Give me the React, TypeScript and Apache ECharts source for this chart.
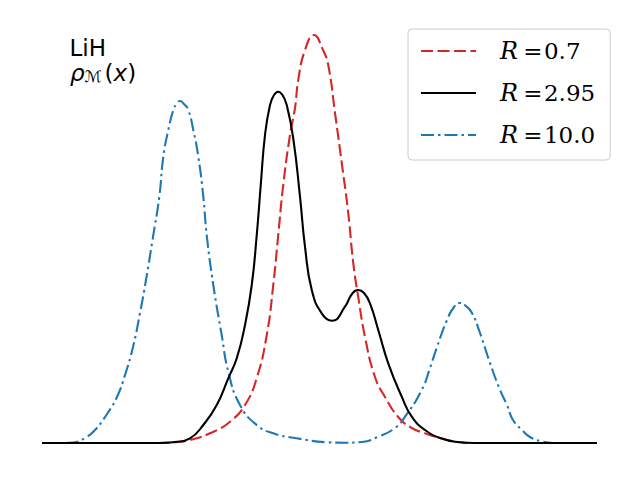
import React, { useEffect, useRef } from "react";
import * as echarts from "echarts";

// x in bohr-like units, y density
const seriesNames = ["R = 0.7", "R = 2.95", "R = 10.0"];
const legendNumbers = ["0.7", "2.95", "10.0"];

const dataR07: [number, number][] = [
  [-11.12, 0], [-6.8, 0], [-5.8, 0.0007], [-5.2, 0.003], [-4.4, 0.0097], [-3.6, 0.0213],
  [-3.0, 0.038], [-2.53, 0.065], [-2.13, 0.108], [-1.87, 0.158], [-1.67, 0.208], [-1.47, 0.258],
  [-1.2, 0.308], [-1.0, 0.335], [-0.87, 0.363], [-0.6, 0.393], [-0.24, 0.408], [0.12, 0.393],
  [0.33, 0.378], [0.6, 0.33], [0.87, 0.28], [1.13, 0.23], [1.33, 0.18], [1.53, 0.146],
  [1.8, 0.106], [2.2, 0.066], [2.6, 0.046], [3.13, 0.026], [3.67, 0.015], [4.2, 0.0097],
  [4.8, 0.005], [5.4, 0.0015], [6.2, 0], [11.08, 0],
];

const dataR295: [number, number][] = [
  [-11.12, 0], [-6.4, 0], [-5.8, 0.001], [-5.2, 0.0047], [-4.67, 0.018], [-4.13, 0.038],
  [-3.67, 0.0647], [-3.33, 0.0847], [-3.0, 0.118], [-2.73, 0.158], [-2.53, 0.208], [-2.37, 0.258],
  [-2.2, 0.308], [-2.0, 0.338], [-1.84, 0.348], [-1.67, 0.3513], [-1.5, 0.348], [-1.33, 0.338],
  [-1.07, 0.3047], [-0.8, 0.2463], [-0.6, 0.1963], [-0.33, 0.153], [0.07, 0.1297], [0.49, 0.1223],
  [1.0, 0.1363], [1.28, 0.149], [1.53, 0.153], [1.76, 0.15], [2.0, 0.1397], [2.33, 0.113],
  [2.73, 0.0797], [3.27, 0.0463], [3.67, 0.0263], [4.2, 0.013], [4.8, 0.005], [5.48, 0.001],
  [6.2, 0], [11.08, 0],
];

const dataR10: [number, number][] = [
  [-11.12, 0], [-10.4, 0], [-9.88, 0.0005], [-9.4, 0.005], [-9.0, 0.013], [-8.52, 0.029],
  [-8.12, 0.046], [-7.8, 0.068], [-7.48, 0.096], [-7.2, 0.13], [-6.96, 0.163], [-6.7, 0.203],
  [-6.428, 0.2463], [-6.268, 0.2863], [-6.068, 0.313], [-5.868, 0.333], [-5.74, 0.339], [-5.6, 0.342],
  [-5.44, 0.339], [-5.268, 0.333], [-5.068, 0.313], [-4.868, 0.2863], [-4.668, 0.2463], [-4.532, 0.208],
  [-4.268, 0.158], [-3.932, 0.108], [-3.668, 0.0713], [-3.2, 0.038], [-2.532, 0.018], [-1.868, 0.0097],
  [-0.932, 0.0047], [0.32, 0.0007], [1.0, 0.0003], [1.68, 0.001], [2.332, 0.0063], [3.0, 0.015],
  [3.4, 0.0263], [4.068, 0.053], [4.4, 0.075], [4.68, 0.096], [5.08, 0.123], [5.36, 0.136],
  [5.6, 0.14], [5.84, 0.137], [6.08, 0.13], [6.4, 0.11], [6.8, 0.08], [7.2, 0.053],
  [7.48, 0.038], [7.72, 0.023], [8.08, 0.013], [8.4, 0.006], [8.8, 0.002], [9.32, 0], [11.08, 0],
];

const allData = [dataR07, dataR295, dataR10];
const colors = ["#d62728", "#000000", "#1f77b4"];
const dashes: any[] = [[12, 4.5], "solid", [13, 4, 2.5, 4]];

export default function App() {
  const ref = useRef<HTMLDivElement>(null);
  useEffect(() => {
    document.body.style.margin = "0";
    if (!ref.current) return;
    const chart = echarts.init(ref.current, undefined, { renderer: "svg" });
    const numByName: Record<string, string> = {};
    seriesNames.forEach((n, i) => (numByName[n] = legendNumbers[i]));
    chart.setOption({
      animation: false,
      backgroundColor: "#ffffff",
      grid: { left: 42, right: 43, top: 13, bottom: 17 },
      xAxis: { type: "value", min: -11.12, max: 11.08, show: false },
      yAxis: { type: "value", min: -0.02, max: 0.43, show: false },
      legend: {
        orient: "vertical",
        left: 408,
        top: 29,
        itemWidth: 55,
        itemHeight: 14,
        itemGap: 12,
        padding: [7, 15, 10, 12],
        backgroundColor: "rgba(255,255,255,0.8)",
        borderColor: "#cccccc",
        borderWidth: 1,
        borderRadius: 4,
        selectedMode: false,
        itemStyle: { opacity: 0 },
        data: seriesNames,
        formatter: (name: string) => `{s| }{r|R}{e|=}{n|${numByName[name]}}`,
        textStyle: {
          lineHeight: 30,
          color: "#000",
          rich: {
            s: { width: 19, fontSize: 24, lineHeight: 30 },
            r: { width: 22, fontFamily: "DejaVu Serif", fontStyle: "italic", fontSize: 24, lineHeight: 30, color: "#000" },
            e: { width: 22, align: "center", fontFamily: "DejaVu Serif", fontSize: 23, lineHeight: 30, color: "#000" },
            n: { fontFamily: "DejaVu Serif", fontSize: 23, lineHeight: 30, color: "#000" },
          },
        },
      },
      graphic: [
        {
          type: "text",
          x: 69.5,
          y: 47.5,
          style: {
            text: "LiH",
            font: "23px 'DejaVu Sans'",
            fill: "#000",
            align: "left",
            verticalAlign: "middle",
          },
        },
        {
          type: "text",
          x: 70,
          y: 73,
          style: {
            text: "{i|ρ}{s|ℳ}{u|(}{i|x}{u|)}",
            fill: "#000",
            align: "left",
            verticalAlign: "middle",
            rich: {
              i: { fontFamily: "DejaVu Sans", fontStyle: "italic", fontSize: 23, lineHeight: 23, fill: "#000" },
              u: { fontFamily: "DejaVu Sans", fontSize: 23, lineHeight: 23, fill: "#000" },
              s: { fontFamily: "DejaVu Sans", fontStyle: "italic", fontSize: 16, lineHeight: 16, width: 20, verticalAlign: "bottom", fill: "#000" },
            },
          },
        },
      ],
      series: seriesNames.map((name, i) => ({
        name,
        type: "line",
        data: allData[i],
        symbol: "none",
        showSymbol: false,
        smooth: 0.5,
        clip: false,
        z: i === 1 ? 3 : 2,
        lineStyle: { color: colors[i], width: 2.1, type: dashes[i] },
        itemStyle: { color: colors[i] },
      })),
    });
    return () => chart.dispose();
  }, []);
  return <div ref={ref} style={{ width: 640, height: 480 }} />;
}
